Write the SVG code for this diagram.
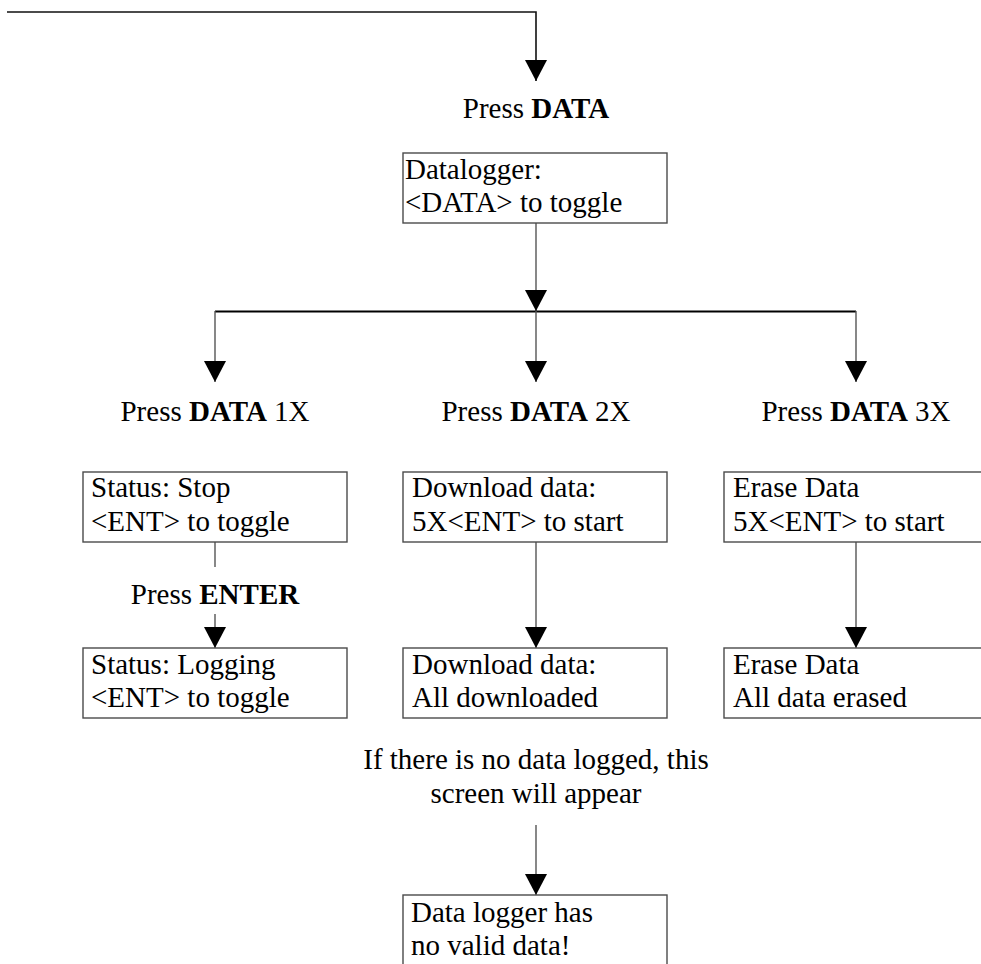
<svg xmlns="http://www.w3.org/2000/svg" width="981" height="964" viewBox="0 0 981 964">
<style>
  text { font-family: "Liberation Serif", "Times New Roman", serif; font-size: 29px; fill: #000; }
  .c { text-anchor: middle; }
  .b { font-weight: bold; }
  .box { fill: #fff; stroke: #4a4a4a; stroke-width: 1.4; }
  .ln { fill: none; stroke: #555; stroke-width: 1.4; }
  .dk { fill: none; stroke: #111; stroke-width: 1.6; }
  .bus { fill: none; stroke: #000; stroke-width: 2.2; }
</style>
<defs>
  <marker id="arr" viewBox="0 0 21 22" refX="21" refY="11" markerWidth="21" markerHeight="22" markerUnits="userSpaceOnUse" orient="auto">
    <path d="M0,0 L21,11 L0,22 z" fill="#000"/>
  </marker>
</defs>
<rect width="981" height="964" fill="#fff"/>

<g id="connectors">
  <polyline class="dk" points="7,12 536,12 536,81" marker-end="url(#arr)"/>
  <line class="ln" x1="536" y1="223" x2="536" y2="311" marker-end="url(#arr)"/>
  <line class="bus" x1="215" y1="311.5" x2="856" y2="311.5"/>
  <line class="ln" x1="215" y1="311" x2="215" y2="382" marker-end="url(#arr)"/>
  <line class="ln" x1="536" y1="311" x2="536" y2="382" marker-end="url(#arr)"/>
  <line class="ln" x1="856" y1="311" x2="856" y2="382" marker-end="url(#arr)"/>
  <line class="ln" x1="215" y1="542" x2="215" y2="567"/>
  <line class="ln" x1="215" y1="614" x2="215" y2="648" marker-end="url(#arr)"/>
  <line class="ln" x1="536" y1="542" x2="536" y2="648" marker-end="url(#arr)"/>
  <line class="ln" x1="856" y1="542" x2="856" y2="648" marker-end="url(#arr)"/>
  <line class="ln" x1="536" y1="825" x2="536" y2="895" marker-end="url(#arr)"/>
</g>

<g id="label-press-data">
  <text class="c" x="536" y="118">Press <tspan class="b">DATA</tspan></text>
</g>

<g id="node-datalogger">
  <rect class="box" x="403" y="153" width="264" height="70"/>
  <text x="405" y="179">Datalogger:</text>
  <text x="405" y="212">&lt;DATA&gt; to toggle</text>
</g>

<g id="label-1x">
  <text class="c" x="215" y="421">Press <tspan class="b">DATA</tspan> 1X</text>
</g>
<g id="label-2x">
  <text class="c" x="536" y="421">Press <tspan class="b">DATA</tspan> 2X</text>
</g>
<g id="label-3x">
  <text class="c" x="856" y="421">Press <tspan class="b">DATA</tspan> 3X</text>
</g>

<g id="node-status-stop">
  <rect class="box" x="83" y="472" width="264" height="70"/>
  <text x="91" y="497">Status: Stop</text>
  <text x="91" y="531">&lt;ENT&gt; to toggle</text>
</g>

<g id="label-press-enter">
  <text class="c" x="215" y="604">Press <tspan class="b">ENTER</tspan></text>
</g>

<g id="node-status-logging">
  <rect class="box" x="83" y="648" width="264" height="70"/>
  <text x="91" y="674">Status: Logging</text>
  <text x="91" y="707">&lt;ENT&gt; to toggle</text>
</g>

<g id="node-download-start">
  <rect class="box" x="403" y="472" width="264" height="70"/>
  <text x="412" y="497">Download data:</text>
  <text x="412" y="531">5X&lt;ENT&gt; to start</text>
</g>

<g id="node-download-done">
  <rect class="box" x="403" y="648" width="264" height="70"/>
  <text x="412" y="674">Download data:</text>
  <text x="412" y="707">All downloaded</text>
</g>

<g id="node-erase-start">
  <rect class="box" x="724" y="472" width="264" height="70"/>
  <text x="733" y="497">Erase Data</text>
  <text x="733" y="531">5X&lt;ENT&gt; to start</text>
</g>

<g id="node-erase-done">
  <rect class="box" x="724" y="648" width="264" height="70"/>
  <text x="733" y="674">Erase Data</text>
  <text x="733" y="707">All data erased</text>
</g>

<g id="label-no-data">
  <text class="c" x="536" y="769">If there is no data logged, this</text>
  <text class="c" x="536" y="803">screen will appear</text>
</g>

<g id="node-no-valid-data">
  <rect class="box" x="403" y="895" width="264" height="72"/>
  <text x="411" y="922">Data logger has</text>
  <text x="411" y="955">no valid data!</text>
</g>
</svg>
